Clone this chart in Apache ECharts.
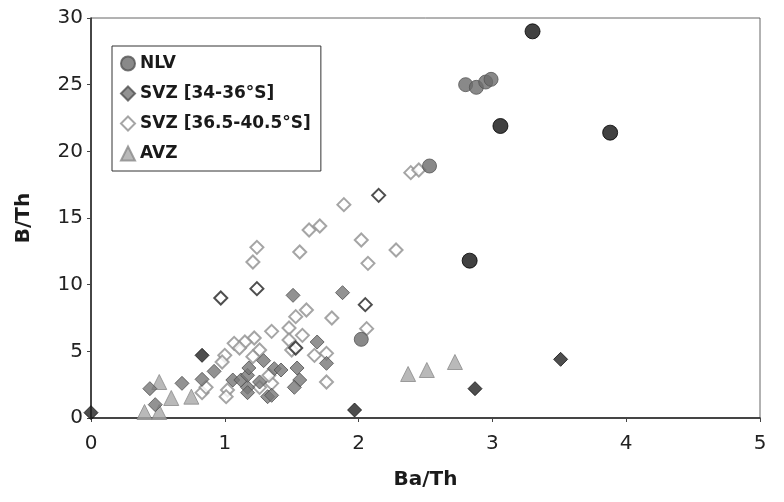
<!DOCTYPE html>
<html>
<head>
<meta charset="utf-8">
<script src="https://cdn.jsdelivr.net/npm/echarts@6/dist/echarts.min.js"></script>
<style>html,body{margin:0;padding:0;background:#fff}#c{width:784px;height:502px}</style>
</head>
<body>
<div id="c"></div>
<script>
var legendNames = ['NLV', 'SVZ [34-36°S]', 'SVZ [36.5-40.5°S]', 'AVZ'];
var xTicks = [0, 1, 2, 3, 4, 5];
var yTicks = [0, 5, 10, 15, 20, 25, 30];

// NLV (grey and black circles)
var nlvGrey = [[2.80,25.0],[2.88,24.8],[2.95,25.2],[2.99,25.4],[2.53,18.9],[2.02,5.9]];
var nlvBlack = [[3.30,29.0],[3.06,21.9],[3.88,21.4],[2.83,11.8]];

// SVZ [34-36°S] (filled diamonds)
var svz1 = [[0.44,2.2],[0.48,1.0],[0.68,2.6],[0.83,2.9],[0.92,3.5],[1.06,2.85],[1.12,2.85],[1.17,2.3],
  [1.17,3.2],[1.18,3.75],[1.17,1.9],[1.26,2.7],[1.29,4.3],[1.32,1.6],[1.37,3.7],[1.42,3.6],[1.35,1.7],
  [1.51,9.2],[1.54,3.75],[1.56,2.85],[1.52,2.3],[1.69,5.7],[1.76,4.1],[1.88,9.4]];
var svz1Dark = [[0.0,0.4],[1.97,0.6],[2.87,2.2],[3.51,4.4],[0.83,4.7]];

// SVZ [36.5-40.5°S] (open diamonds)
var svz2 = [[1.61,8.1],[1.53,7.6],[1.48,6.75],[1.58,6.2],[1.35,6.5],[1.22,6.0],[1.15,5.7],[1.07,5.6],
  [1.0,4.7],[1.11,5.25],[1.26,5.1],[0.98,4.2],[1.21,4.6],[1.48,5.85],[1.50,5.1],[1.67,4.7],[1.76,4.85],
  [0.83,1.9],[0.86,2.3],[1.02,2.1],[1.01,1.6],[1.26,2.3],[1.35,2.6],[1.33,3.2],[1.76,2.7],
  [1.24,12.8],[1.21,11.7],[1.56,12.45],[1.63,14.1],[1.71,14.4],[1.89,16.0],[2.02,13.35],[2.28,12.6],
  [2.07,11.6],[2.06,6.7],[2.39,18.4],[2.45,18.6],[1.80,7.5]];
var svz2Dark = [[0.97,9.0],[1.24,9.7],[2.15,16.7],[2.05,8.5],[1.53,5.25]];

// AVZ (triangles)
var avz = [[0.51,2.7],[0.60,1.5],[0.75,1.6],[0.40,0.45],[0.51,0.45],[2.37,3.3],[2.51,3.6],[2.72,4.2]];

var chart = echarts.init(document.getElementById('c'));
var tickFont = {fontFamily: 'DejaVu Sans', fontSize: 20, color: '#222'};
chart.setOption({
  animation: false,
  backgroundColor: '#fff',
  grid: {left: 91, right: 24, top: 18, bottom: 84, show: true, borderColor: '#666', borderWidth: 1},
  legend: {
    data: legendNames,
    orient: 'vertical', left: 112, top: 46,
    backgroundColor: '#fff', borderColor: '#333', borderWidth: 1,
    padding: [9, 10, 9, 8],
    itemWidth: 14, itemHeight: 14, itemGap: 13,
    textStyle: {fontFamily: 'DejaVu Sans', fontWeight: 'bold', fontSize: 17, color: '#1a1a1a'}
  },
  xAxis: {
    type: 'value', min: xTicks[0], max: xTicks[xTicks.length-1], interval: 1,
    name: 'Ba/Th', nameLocation: 'middle', nameGap: 52,
    nameTextStyle: {fontFamily: 'DejaVu Sans', fontWeight: 'bold', fontSize: 20, color: '#1a1a1a'},
    axisLine: {show: true, onZero: false, lineStyle: {color: '#222', width: 1.5}},
    axisTick: {show: true, length: 4, lineStyle: {color: '#444'}},
    axisLabel: Object.assign({margin: 16}, tickFont),
    splitLine: {show: false}
  },
  yAxis: {
    type: 'value', min: yTicks[0], max: yTicks[yTicks.length-1], interval: 5,
    name: 'B/Th', nameLocation: 'middle', nameGap: 57,
    nameTextStyle: {fontFamily: 'DejaVu Sans', fontWeight: 'bold', fontSize: 20, color: '#1a1a1a'},
    axisLine: {show: true, onZero: false, lineStyle: {color: '#222', width: 1.5}},
    axisTick: {show: true, length: 4, lineStyle: {color: '#444'}},
    axisLabel: Object.assign({margin: 8}, tickFont),
    splitLine: {show: false}
  },
  series: [
    {name: 'AVZ', type: 'scatter', symbol: 'triangle', symbolSize: 15, data: avz,
      itemStyle: {color: '#a8a8a8', borderColor: '#8a8a8a', borderWidth: 1}},
    {name: 'SVZ [36.5-40.5°S]', type: 'scatter', symbol: 'diamond', symbolSize: 13, data: svz2,
      itemStyle: {color: '#fff', borderColor: '#8f8f8f', borderWidth: 2}},
    {name: 'SVZ2dark', type: 'scatter', symbol: 'diamond', symbolSize: 13, data: svz2Dark,
      itemStyle: {color: '#fff', borderColor: '#222', borderWidth: 2}},
    {name: 'SVZ [34-36°S]', type: 'scatter', symbol: 'diamond', symbolSize: 14, data: svz1,
      itemStyle: {color: '#777', borderColor: '#505050', borderWidth: 1}},
    {name: 'SVZ1dark', type: 'scatter', symbol: 'diamond', symbolSize: 14, data: svz1Dark,
      itemStyle: {color: '#222', borderColor: '#111', borderWidth: 1}},
    {name: 'NLV', type: 'scatter', symbol: 'circle', symbolSize: 14, data: nlvGrey,
      itemStyle: {color: '#6c6c6c', borderColor: '#555', borderWidth: 1}},
    {name: 'NLVblack', type: 'scatter', symbol: 'circle', symbolSize: 15, data: nlvBlack,
      itemStyle: {color: '#111', borderColor: '#000', borderWidth: 1}}
  ]
});
</script>
</body>
</html>
